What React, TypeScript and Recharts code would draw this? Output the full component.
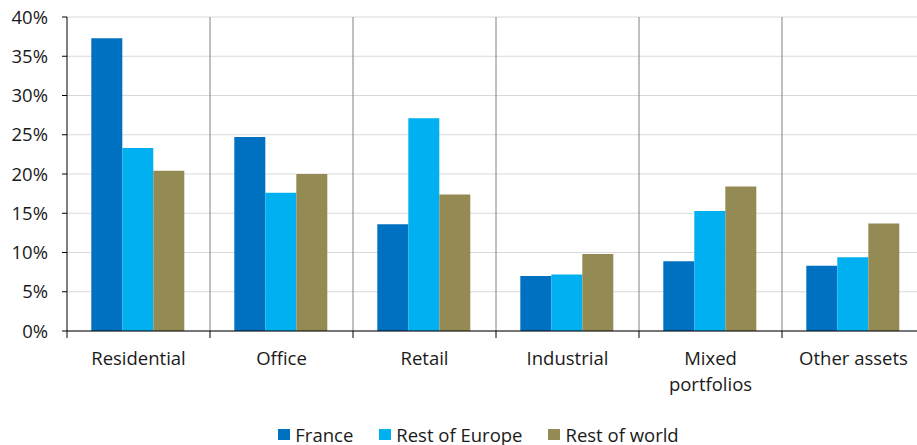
import React from 'react';
import { BarChart, Bar, XAxis, YAxis, CartesianGrid, Legend } from 'recharts';

const categories = ['Residential', 'Office', 'Retail', 'Industrial', 'Mixed portfolios', 'Other assets'];
const france = [37.3, 24.7, 13.6, 7.0, 8.9, 8.3];
const restOfEurope = [23.3, 17.6, 27.1, 7.2, 15.3, 9.4];
const restOfWorld = [20.4, 20.0, 17.4, 9.8, 18.4, 13.7];
const yTicks = [0, 5, 10, 15, 20, 25, 30, 35, 40];

const SERIES = [
  { key: 'france', name: 'France', color: '#0070C0' },
  { key: 'restOfEurope', name: 'Rest of Europe', color: '#00B0F0' },
  { key: 'restOfWorld', name: 'Rest of world', color: '#948A54' },
];

const FONT = '"Open Sans", sans-serif';
const FS = 18.5;
const TEXT = '#1a1a1a';

const data = categories.map((name, i) => ({
  name,
  france: france[i],
  restOfEurope: restOfEurope[i],
  restOfWorld: restOfWorld[i],
}));

// label split on lines + small tick mark at the left boundary of each band
const CategoryTick = (props: any) => {
  const { x, y, payload, width, visibleTicksCount } = props;
  const bw = width / (visibleTicksCount || categories.length);
  const lines = payload.value === 'Mixed portfolios' ? ['Mixed', 'portfolios'] : [payload.value];
  return (
    <g>
      <line x1={x - bw / 2} x2={x - bw / 2} y1={y} y2={y + 7} stroke="#000" strokeWidth={1} />
      <text x={x} y={y + 34} textAnchor="middle" fill={TEXT} fontSize={FS} fontFamily={FONT}>
        {lines.map((l, i) => (
          <tspan key={i} x={x} dy={i === 0 ? 0 : 26}>{l}</tspan>
        ))}
      </text>
    </g>
  );
};

const LegendContent = () => (
  <div style={{ display: 'flex', justifyContent: 'center', alignItems: 'center', height: 22, fontFamily: FONT, fontSize: FS, color: TEXT, paddingLeft: 32 }}>
    {SERIES.map((s) => (
      <div key={s.key} style={{ display: 'flex', alignItems: 'center', margin: '0 13px' }}>
        <span style={{ display: 'inline-block', width: 12, height: 11, background: s.color, marginRight: 5 }} />
        <span>{s.name}</span>
      </div>
    ))}
  </div>
);

const App: React.FC = () => {
  return (
    <div style={{ position: 'absolute', left: 0, top: 0, width: 917, height: 445, overflow: 'hidden', background: '#fff' }}>
      <BarChart
        width={925}
        height={445}
        data={data}
        margin={{ top: 17, right: 0, left: 0, bottom: 0 }}
        barCategoryGap="17%"
        barGap={0}
        style={{ fontFamily: FONT }}
      >
        <CartesianGrid horizontal={true} vertical={false} stroke="#d9d9d9" />
        <CartesianGrid
          horizontal={false}
          vertical={true}
          stroke="#808080"
          verticalCoordinatesGenerator={({ offset }: any) =>
            categories.slice(1).map((_, i) => offset.left + ((i + 1) * offset.width) / categories.length)
          }
        />
        <XAxis
          dataKey="name"
          interval={0}
          height={92}
          tickSize={0}
          tickMargin={0}
          tickLine={false}
          axisLine={{ stroke: '#000', strokeWidth: 1 }}
          tick={<CategoryTick />}
        />
        <YAxis
          width={67}
          domain={[0, 40]}
          ticks={yTicks}
          interval={0}
          tickFormatter={(v: number) => `${v}%`}
          tickSize={5}
          tickMargin={14}
          axisLine={{ stroke: '#000', strokeWidth: 1 }}
          tickLine={{ stroke: '#000', strokeWidth: 1 }}
          tick={{ fill: TEXT, fontSize: FS, fontFamily: FONT }}
        />
        <Legend verticalAlign="bottom" content={<LegendContent />} />
        {SERIES.map((s) => (
          <Bar key={s.key} dataKey={s.key} name={s.name} fill={s.color} isAnimationActive={false} />
        ))}
      </BarChart>
    </div>
  );
};

export default App;
